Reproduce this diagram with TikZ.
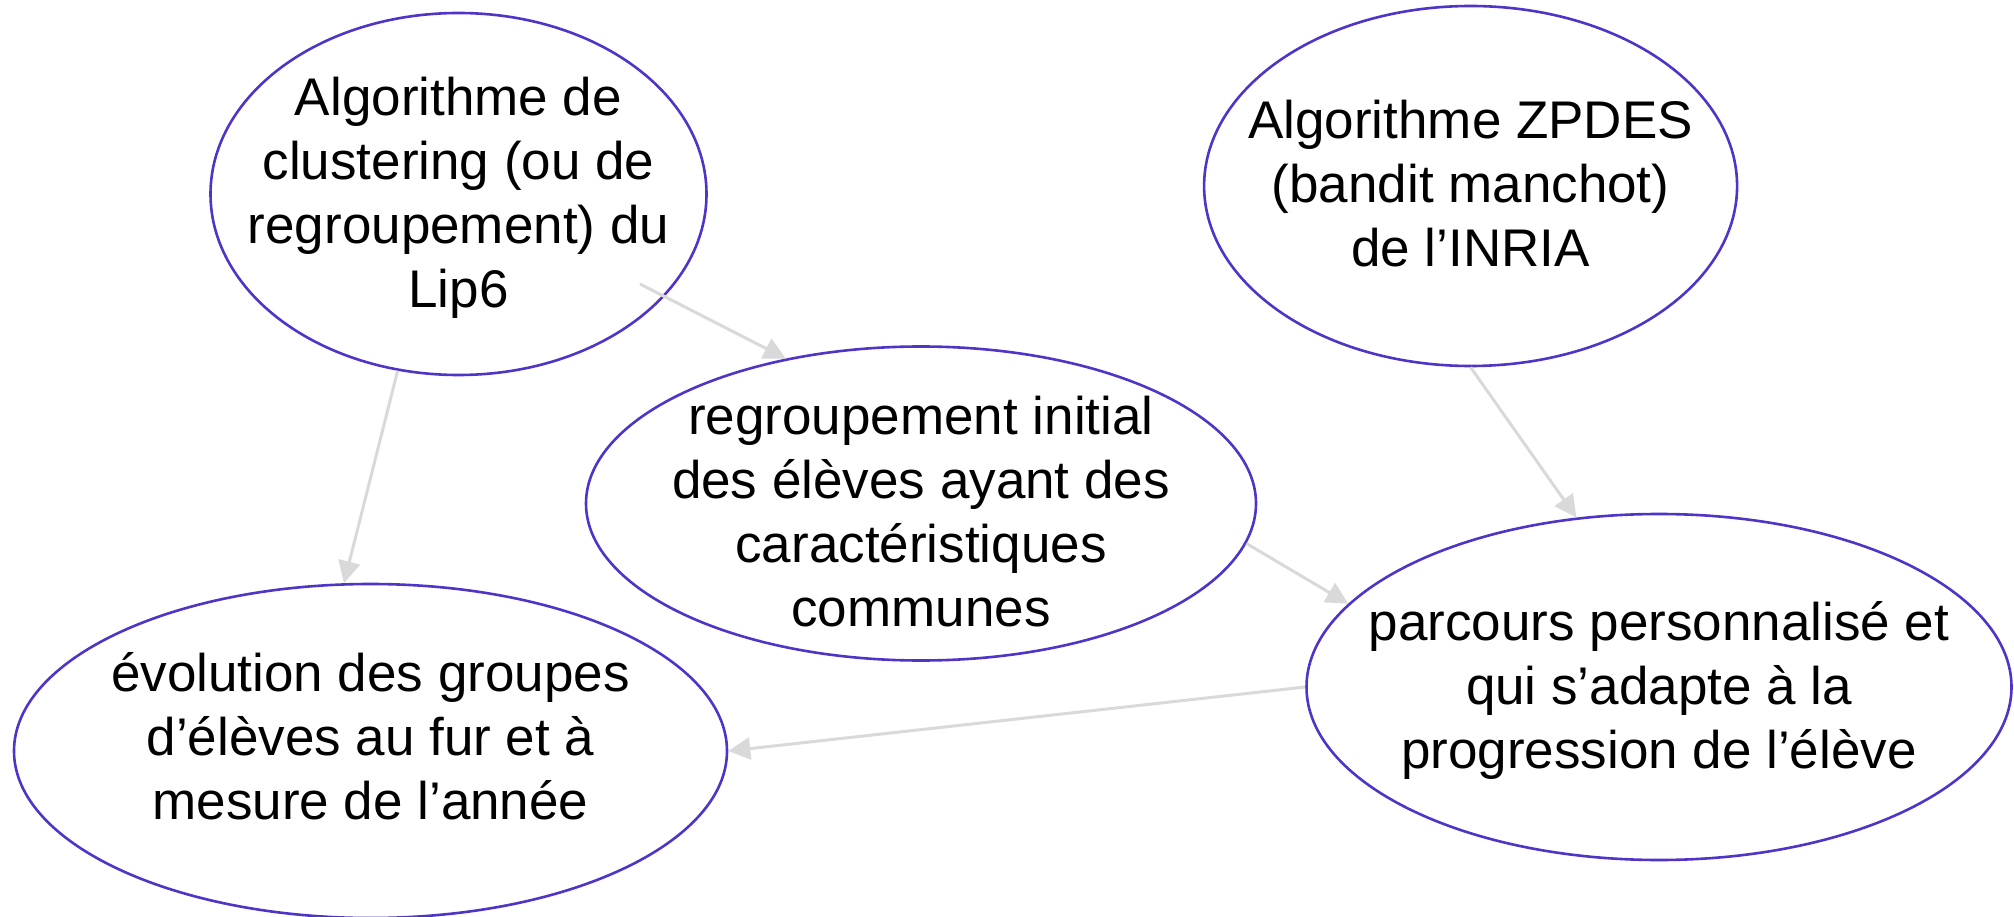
\documentclass[tikz,border=0pt]{standalone}
\usepackage{fontspec}
\setmainfont{Liberation Sans}
\usetikzlibrary{shapes.geometric,arrows.meta}
\definecolor{ellcol}{RGB}{80,52,200}
\definecolor{arrcol}{RGB}{217,217,217}
\begin{document}
\begin{tikzpicture}[x=1pt,y=-1pt,
  ell/.style={draw=ellcol,line width=2.6pt,ellipse,inner sep=0pt},
  txt/.style={align=center,inner sep=0pt,font=\fontsize{53}{64}\selectfont},
  conn/.style={draw=arrcol,line width=3pt,-{Triangle[length=22pt,width=22pt]}}]
\useasboundingbox (0,0) rectangle (2014,917);
\node[ell,minimum width=496pt,minimum height=362pt] (e1) at (458.5,194) {};
\node[ell,minimum width=533pt,minimum height=360pt] (e2) at (1470.6,186) {};
\node[ell,minimum width=670pt,minimum height=314pt] (e3) at (921,503.5) {};
\node[ell,minimum width=705pt,minimum height=346pt] (e4) at (1659,687) {};
\node[ell,minimum width=713pt,minimum height=334pt] (e5) at (370.5,751) {};
\node[txt] (t1) at (458.5,198) {Algorithme de\\clustering (ou de\\regroupement) du\\Lip6};
\node[txt] (t2) at (1470.6,184) {Algorithme ZPDES\\(bandit manchot)\\de l’INRIA};
\node[txt] (t3) at (921,512) {regroupement initial\\des élèves ayant des\\caractéristiques\\communes};
\node[txt] (t4) at (1659,690) {parcours personnalisé et\\qui s’adapte à la\\progression de l’élève};
\node[txt] (t5) at (370.5,736) {évolution des groupes\\d’élèves au fur et à\\mesure de l’année};
\coordinate (s1) at (640,284);
\draw[conn] (s1) -- (e3.133.3);
\draw[conn] (e1.-109.3) -- (e5.99.3);
\draw[conn] (e2.-90) -- (e4.116);
\draw[conn] (e3.-7.5) -- (e4.165.9);
\draw[conn] (e4.west) -- (e5.east);
\end{tikzpicture}
\end{document}
